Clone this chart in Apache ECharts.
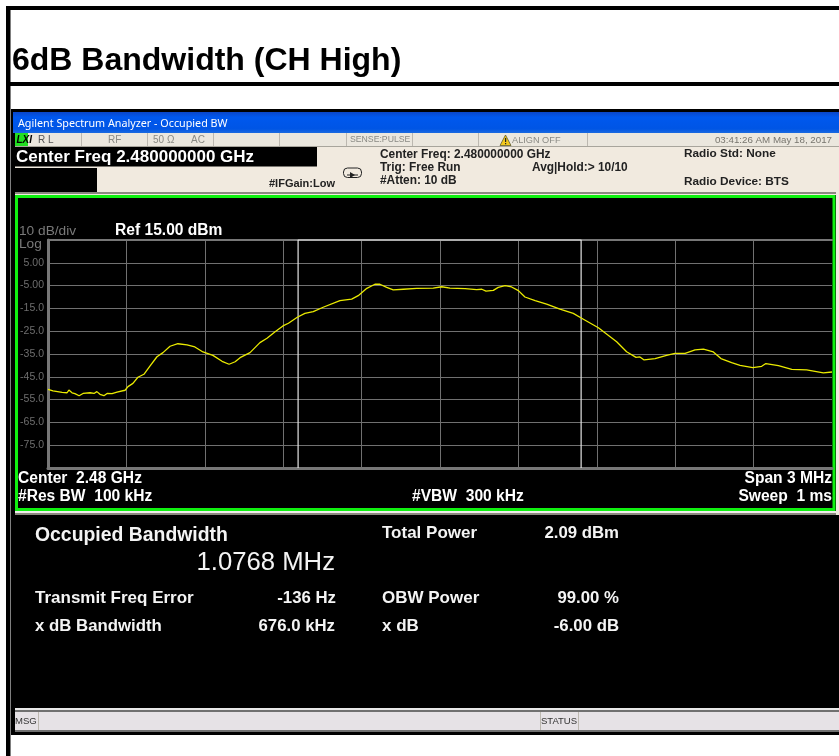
<!DOCTYPE html>
<html>
<head>
<meta charset="utf-8">
<style>
html, body { margin: 0; padding: 0; background: #fff; }
#main { width: 839px; height: 756px; }
</style>
<script src="https://cdn.jsdelivr.net/npm/echarts@6/dist/echarts.min.js"></script>
</head>
<body>
<div id="main"></div>
<script>
// frequency offset from center (MHz) and level (dBm)
var traceFreq = [-1.5, -1.481, -1.446, -1.427, -1.42, -1.408, -1.397, -1.381, -1.366, -1.339, -1.324, -1.313, -1.301, -1.286, -1.274, -1.255, -1.236, -1.205, -1.194, -1.175, -1.156, -1.133, -1.11, -1.083, -1.06, -1.033, -1.003, -0.968, -0.938, -0.907, -0.869, -0.834, -0.807, -0.784, -0.765, -0.727, -0.689, -0.662, -0.631, -0.601, -0.58, -0.546, -0.517, -0.485, -0.447, -0.383, -0.338, -0.313, -0.28, -0.249, -0.23, -0.204, -0.179, -0.14, -0.089, -0.026, 0.007, 0.038, 0.096, 0.14, 0.16, 0.176, 0.204, 0.223, 0.249, 0.274, 0.3, 0.325, 0.364, 0.408, 0.459, 0.51, 0.542, 0.606, 0.676, 0.714, 0.75, 0.765, 0.781, 0.823, 0.867, 0.899, 0.938, 0.976, 1.008, 1.046, 1.075, 1.116, 1.148, 1.197, 1.231, 1.247, 1.295, 1.346, 1.403, 1.467, 1.5];
var traceLevel = [-50.5, -51.2, -51.8, -52, -50.8, -52, -52.4, -53.3, -52.3, -52, -52.3, -51.5, -52.7, -53.3, -52.3, -52.4, -51.7, -50.9, -49.3, -47.9, -45.2, -43.9, -40.3, -36.2, -34.4, -31.6, -30.5, -31, -31.9, -34.1, -35.6, -38.2, -39.5, -38.4, -36.6, -34.4, -30, -28.1, -25.2, -22.7, -21.5, -18.9, -17.2, -16.4, -14.5, -11.6, -10.9, -9.4, -6.2, -4.4, -4.4, -5.8, -6.9, -6.6, -6.2, -6.1, -5.5, -6.1, -6.3, -6.8, -6.6, -7.4, -7.1, -5.8, -5, -5.6, -7.2, -10, -11.6, -13.1, -15.3, -17.2, -19.3, -23.5, -29.6, -34, -36.5, -36.3, -37.6, -37, -35.6, -34.7, -34.7, -33.2, -32.9, -34.1, -37, -38.8, -40, -41, -40.4, -39.2, -40.1, -41.7, -42, -43.3, -42.9];
var levelTicks = ['', '-75.0', '-65.0', '-55.0', '-45.0', '-35.0', '-25.0', '-15.0', '-5.00', '5.00', ''];
var obwFreq = [-0.543, -0.543, 0.54, 0.54];
var obwLevel = [-85, 15, 15, -85];

var FONT = '"Liberation Sans", Arial, sans-serif';

function zip(a, b) {
    return a.map(function (v, i) { return [v, b[i]]; });
}
function box(x, y, w, h, fill, z) {
    return { type: 'rect', z: z || -5, silent: true, shape: { x: x, y: y, width: w, height: h }, style: { fill: fill } };
}
// cy is the vertical middle of the text
function label(x, cy, text, size, color, weight, align, font) {
    return {
        type: 'text', z: 20, silent: true,
        style: {
            x: x, y: cy + 1, text: text, fill: color,
            font: (weight || 'normal') + ' ' + size + 'px ' + (font || FONT),
            textAlign: align || 'left', textVerticalAlign: 'middle'
        }
    };
}

var DARK = '#222';
var MUTED = '#8a8a84';
var GREY = '#7a7a7a';
var PANEL = '#f4f4f4';

var chrome = [
    // page table lines
    box(6, 6, 833, 4, '#000'),
    box(6, 6, 4.5, 750, '#000'),
    box(10, 82, 829, 4, '#000'),
    // analyzer screenshot
    box(11, 109, 828, 626, '#000'),
    {
        type: 'rect', z: -4, silent: true,
        shape: { x: 13, y: 112, width: 826, height: 21 },
        style: {
            fill: {
                type: 'linear', x: 0, y: 0, x2: 0, y2: 1,
                colorStops: [{ offset: 0, color: '#0a46c8' }, { offset: 0.25, color: '#0058ee' }, { offset: 0.8, color: '#0055e5' }, { offset: 1, color: '#1a6ae0' }]
            }
        }
    },
    box(15, 133, 824, 14, '#ebe7de', -4),
    box(15, 147, 824, 48, '#f1eadf', -4),
    box(15, 146, 824, 1, '#a8a59c', -3),
    box(15, 147, 302, 19.5, '#000', -3),
    box(15, 168, 82, 24, '#000', -3),
    box(15, 192, 821, 2, '#8b887f', -3),
    box(15, 195, 824, 320, '#f1eadf', -4),
    box(15, 195, 821, 316, '#000', -3),
    box(15, 511, 821, 1.5, '#eeeeee', -3),
    box(15, 513, 821, 2, '#8b887f', -3),
    box(15, 515, 821, 193, '#000', -3),
    box(15, 708, 824, 2, '#e8e8e8', -3),
    box(15, 710, 824, 2, '#707070', -3),
    box(15, 712, 824, 18, '#e6e2e6', -3),
    box(15, 730, 824, 2, '#707070', -3),
    box(38, 712, 1, 18, '#bcb8b0', -2),
    box(540, 712, 1, 18, '#bcb8b0', -2),
    box(578, 712, 1, 18, '#bcb8b0', -2),
    // green frame round the trace area
    {
        type: 'rect', z: -2, silent: true,
        shape: { x: 16.5, y: 196.5, width: 817.5, height: 313 },
        style: { fill: 'none', stroke: '#10f010', lineWidth: 3 }
    },
    // status row separators
    box(81, 133, 1, 13, '#bcb8b0', -2),
    box(147, 133, 1, 13, '#bcb8b0', -2),
    box(213, 133, 1, 13, '#bcb8b0', -2),
    box(279, 133, 1, 13, '#bcb8b0', -2),
    box(346, 133, 1, 13, '#bcb8b0', -2),
    box(412, 133, 1, 13, '#bcb8b0', -2),
    box(478, 133, 1, 13, '#bcb8b0', -2),
    box(587, 133, 1, 13, '#bcb8b0', -2),
    box(15, 133, 13, 13, '#22dd22', -2),
    // align warning triangle
    {
        type: 'polygon', z: 5, silent: true,
        shape: { points: [[505.5, 135], [511, 145.5], [500, 145.5]] },
        style: { fill: '#f2c81e', stroke: '#4a4a20', lineWidth: 0.7 }
    },
    box(505, 138, 1.2, 4, '#222', 6),
    box(505, 143, 1.2, 1.2, '#222', 6),
    // little key icon beside the settings text
    {
        type: 'rect', z: 5, silent: true,
        shape: { x: 343.5, y: 168, width: 18, height: 9.5, r: 4 },
        style: { fill: '#f1eadf', stroke: '#222', lineWidth: 1 }
    },
    box(347, 174.5, 11, 1, '#222', 6),
    {
        type: 'polygon', z: 6, silent: true,
        shape: { points: [[350, 172], [355, 175], [350, 178]] },
        style: { fill: '#222' }
    }
];

var texts = [
    label(12, 60, '6dB Bandwidth (CH High)', 32, '#000', 'bold'),
    label(18, 123, 'Agilent Spectrum Analyzer - Occupied BW', 10.75, '#fff', 'normal', 'left', '"Noto Sans", sans-serif'),

    label(16.5, 139, 'LXI', 10, '#000', 'italic bold'),
    label(38, 139, 'R L', 10, '#555'),
    label(108, 139, 'RF', 10, MUTED),
    label(153, 139, '50 Ω', 10, MUTED),
    label(191, 139, 'AC', 10, MUTED),
    label(350, 139, 'SENSE:PULSE', 8.7, MUTED),
    label(512, 139, 'ALIGN OFF', 9.2, MUTED),
    label(832, 139, '03:41:26 AM May 18, 2017', 9.75, '#77756e', 'normal', 'right'),

    label(16, 156, 'Center Freq 2.480000000 GHz', 17, '#fff', 'bold'),
    label(380, 154, 'Center Freq: 2.480000000 GHz', 11.9, DARK, 'bold'),
    label(380, 167, 'Trig: Free Run', 11.9, DARK, 'bold'),
    label(380, 180, '#Atten: 10 dB', 11.9, DARK, 'bold'),
    label(532, 167, 'Avg|Hold:> 10/10', 11.9, DARK, 'bold'),
    label(684, 153, 'Radio Std: None', 11.8, DARK, 'bold'),
    label(684, 181, 'Radio Device: BTS', 11.8, DARK, 'bold'),
    label(335, 183, '#IFGain:Low', 11, DARK, 'bold', 'right'),

    label(19, 230, '10 dB/div', 13.7, GREY),
    label(19, 243, 'Log', 13.7, GREY),
    label(115, 230, 'Ref 15.00 dBm', 15.6, '#fff', 'bold'),
    label(18, 478, 'Center  2.48 GHz', 15.6, '#fff', 'bold'),
    label(18, 496, '#Res BW  100 kHz', 15.6, '#fff', 'bold'),
    label(412, 496, '#VBW  300 kHz', 15.6, '#fff', 'bold'),
    label(832, 478, 'Span 3 MHz', 15.6, '#fff', 'bold', 'right'),
    label(832, 496, 'Sweep  1 ms', 15.6, '#fff', 'bold', 'right'),

    label(35, 535, 'Occupied Bandwidth', 19.4, PANEL, 'bold'),
    label(335, 562, '1.0768 MHz', 25.7, PANEL, 'normal', 'right'),
    label(35, 597, 'Transmit Freq Error', 17, PANEL, 'bold'),
    label(336, 597, '-136 Hz', 16.8, PANEL, 'bold', 'right'),
    label(35, 625, 'x dB Bandwidth', 16.8, PANEL, 'bold'),
    label(335, 625, '676.0 kHz', 16.8, PANEL, 'bold', 'right'),
    label(382, 532, 'Total Power', 17, PANEL, 'bold'),
    label(619, 532, '2.09 dBm', 16.8, PANEL, 'bold', 'right'),
    label(382, 597, 'OBW Power', 17, PANEL, 'bold'),
    label(619, 597, '99.00 %', 16.8, PANEL, 'bold', 'right'),
    label(382, 625, 'x dB', 17, PANEL, 'bold'),
    label(619, 625, '-6.00 dB', 16.8, PANEL, 'bold', 'right'),

    label(15, 720, 'MSG', 9.5, '#333'),
    label(541, 720, 'STATUS', 9.5, '#333')
];

var option = {
    backgroundColor: '#fff',
    animation: false,
    graphic: { elements: chrome.concat(texts) },
    grid: { left: 48, top: 240, width: 784, height: 228 },
    xAxis: [{
        type: 'value', min: -1.5, max: 1.5, interval: 0.3,
        axisLine: { show: true, onZero: false, lineStyle: { color: '#777', width: 3 } },
        axisTick: { show: false }, axisLabel: { show: false },
        splitLine: { showMaxLine: false, showMinLine: false, lineStyle: { color: '#707070', width: 1 } }
    }, {
        type: 'value', position: 'top', min: -1.5, max: 1.5, interval: 0.3,
        axisLine: { show: true, onZero: false, lineStyle: { color: '#777', width: 2 } },
        axisTick: { show: false }, axisLabel: { show: false }, splitLine: { show: false }
    }],
    yAxis: {
        type: 'value', min: -85, max: 15, interval: 10,
        axisLine: { show: true, onZero: false, lineStyle: { color: '#777', width: 3 } },
        axisTick: { show: false },
        axisLabel: {
            margin: 4, color: '#6e6e6e', fontSize: 10.5, fontFamily: 'Liberation Sans',
            formatter: function (v) { return levelTicks[Math.round((v + 85) / 10)]; }
        },
        splitLine: { showMaxLine: false, showMinLine: false, lineStyle: { color: '#707070', width: 1 } }
    },
    series: [{
        name: 'OBW',
        type: 'line',
        data: zip(obwFreq, obwLevel),
        showSymbol: false,
        clip: false,
        lineStyle: { color: '#e4e4e4', width: 1.2 },
        z: 3
    }, {
        name: 'Trace',
        type: 'line',
        data: zip(traceFreq, traceLevel),
        showSymbol: false,
        lineStyle: { color: '#eaea00', width: 1.3 },
        z: 4
    }]
};

var myChart = echarts.init(document.getElementById('main'));
myChart.setOption(option);
</script>
</body>
</html>
